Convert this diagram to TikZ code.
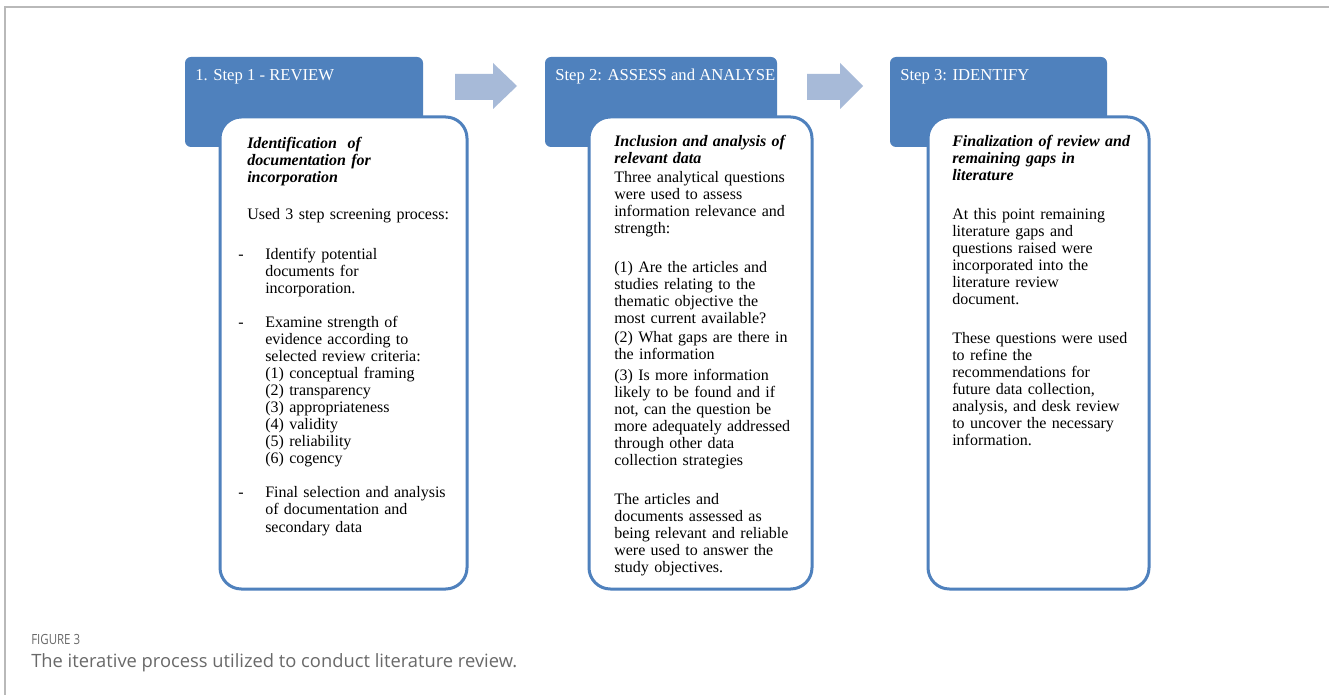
\documentclass[tikz,border=0pt]{standalone}
\usepackage{fontspec}
\setmainfont{Liberation Serif}
\newfontfamily\capfont{Open Sans}
\newfontfamily\capnarrowfont{Open Sans}[FakeStretch=0.82]
\definecolor{hdrblue}{RGB}{79,129,189}
\definecolor{arrowblue}{RGB}{167,186,216}
\definecolor{framegray}{RGB}{185,185,185}
\definecolor{capgray}{RGB}{105,105,105}
\begin{document}
\begin{tikzpicture}[x=0.75pt,y=-0.75pt,
  header/.style={fill=hdrblue, rounded corners=4.5pt},
  panel/.style={draw=hdrblue, line width=2.25pt, fill=white, rounded corners=16pt},
  hdrtext/.style={anchor=base west, inner sep=0pt, text=white, font=\fontsize{12.5pt}{15pt}\selectfont},
  titletext/.style={anchor=base west, inner sep=0pt, text width=240pt, align=left, font=\fontsize{12pt}{12.5pt}\selectfont\bfseries\itshape},
  bodytext/.style={anchor=base west, inner sep=0pt, text width=240pt, align=left, font=\fontsize{12pt}{12.75pt}\selectfont},
  dashmark/.style={anchor=base west, inner sep=0pt, font=\fontsize{12pt}{12.75pt}\selectfont},
  blockarrow/.style={fill=arrowblue},
  frameline/.style={draw=framegray, line width=1.1pt}]
\useasboundingbox (0,0) rectangle (1329,695);
\fill[white] (0,0) rectangle (1329,695);
\draw[frameline] (5,695) -- (5,7) -- (1329,7);

% block arrows between the steps
\fill[blockarrow] (455,74) -- (493,74) -- (493,63) -- (517,86) -- (493,109) -- (493,100) -- (455,100) -- cycle;
\fill[blockarrow] (807,74) -- (840,74) -- (840,63) -- (863,86) -- (840,109) -- (840,100) -- (807,100) -- cycle;

% step 1
\fill[header] (185,57) rectangle (423,147);
\draw[panel] (220,117) rectangle (467,589);
\node[hdrtext] (h1) at (195,81) {1. Step 1 - REVIEW};
\node[titletext] (t1) at (247,149) {Identification\ \ of\\documentation for\\incorporation};
\node[bodytext] (u1) at (247,220) {Used 3 step screening process:};
\node[dashmark] (d1a) at (238,260) {-};
\node[bodytext] (p1a) at (265,260) {Identify potential\\documents for\\incorporation.};
\node[dashmark] (d1b) at (238,328) {-};
\node[bodytext] (p1b) at (265,328) {Examine strength of\\evidence according to\\selected review criteria:\\(1) conceptual framing\\(2) transparency\\(3) appropriateness\\(4) validity\\(5) reliability\\(6) cogency};
\node[dashmark] (d1c) at (238,498) {-};
\node[bodytext] (p1c) at (265,498) {Final selection and analysis\\of documentation and\\secondary data};

% step 2
\fill[header] (545,57) rectangle (777,147);
\draw[panel] (589,117) rectangle (812,589);
\node[hdrtext] (h2) at (555,81) {Step 2: ASSESS and ANALYSE};
\node[titletext] (t2) at (614,147) {Inclusion and analysis of\\relevant data};
\node[bodytext] (p2a) at (614,183) {Three analytical questions\\were used to assess\\information relevance and\\strength:};
\node[bodytext] (q2a) at (614,273) {(1) Are the articles and\\studies relating to the\\thematic objective the\\most current available?};
\node[bodytext] (q2b) at (614,343) {(2) What gaps are there in\\the information};
\node[bodytext] (q2c) at (614,381) {(3) Is more information\\likely to be found and if\\not, can the question be\\more adequately addressed\\through other data\\collection strategies};
\node[bodytext] (p2b) at (614,504) {The articles and\\documents assessed as\\being relevant and reliable\\were used to answer the\\study objectives.};

% step 3
\fill[header] (890,57) rectangle (1107,147);
\draw[panel] (928,117) rectangle (1149,589);
\node[hdrtext] (h3) at (900,81) {Step 3: IDENTIFY};
\node[titletext] (t3) at (952,147) {Finalization of review and\\remaining gaps in\\literature};
\node[bodytext] (p3a) at (952,220) {At this point remaining\\literature gaps and\\questions raised were\\incorporated into the\\literature review\\document.};
\node[bodytext] (p3b) at (952,344) {These questions were used\\to refine the\\recommendations for\\future data collection,\\analysis, and desk review\\to uncover the necessary\\information.};

% caption
\node[anchor=base west, inner sep=0pt, text=capgray, font=\capnarrowfont\fontsize{10.5pt}{12pt}\selectfont] (figlabel) at (31,644) {FIGURE 3};
\node[anchor=base west, inner sep=0pt, text=capgray, font=\capfont\fontsize{13.75pt}{16pt}\selectfont] (figcaption) at (31,667) {The iterative process utilized to conduct literature review.};
\end{tikzpicture}
\end{document}
